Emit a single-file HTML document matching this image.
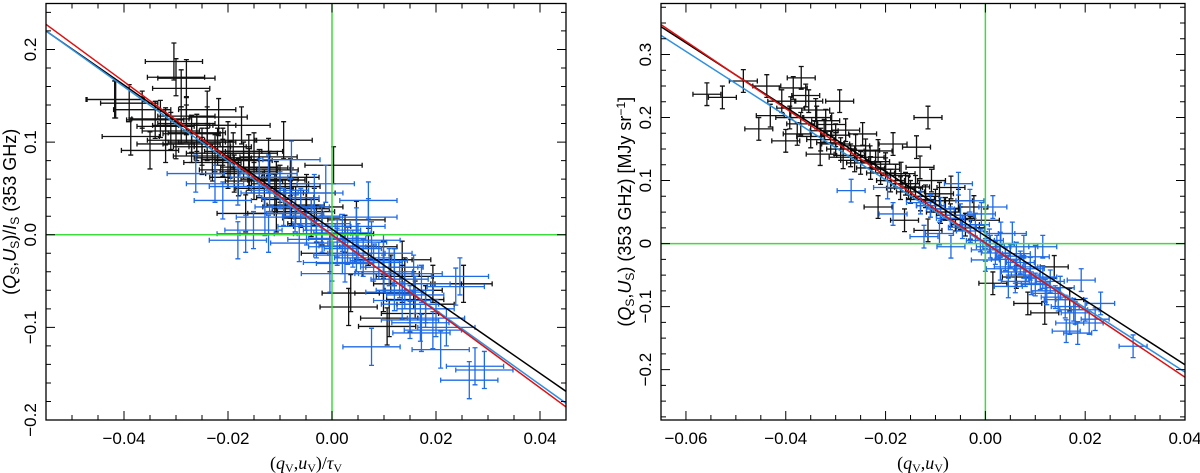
<!DOCTYPE html>
<html><head><meta charset="utf-8"><style>
body{margin:0;background:#fff}
svg{display:block;font-family:"Liberation Sans",sans-serif}
</style></head><body>
<svg id="c" width="1200" height="473" viewBox="0 0 1200 473"></svg>
<script>
// ---- Left panel data ----
const L_blackX=[-0.0304,-0.030,-0.028,-0.029,-0.0416,-0.0418,-0.039,-0.0387,-0.035,-0.0365,-0.034,-0.032,-0.030,-0.027,-0.025,-0.0225,-0.0196,-0.024,-0.0218,-0.0174,-0.0188,-0.0159,-0.0122,-0.0093,-0.0107,-0.0078,-0.0049,-0.0166,-0.0107,-0.0078,-0.0034,0.0003,-0.0019,0.0025,-0.0004,0.0047,0.007,0.0099,0.0113,0.0135,0.0253,0.0194,0.0032,0.0106,0.015,0.0157,0.0099,0.0135,0.0036,-0.028,-0.026,-0.021,-0.015,
-0.033,-0.031,-0.029,-0.027,-0.026,-0.025,-0.024,-0.023,-0.022,-0.021,-0.020,-0.019,-0.018,-0.017,-0.016,-0.015,-0.014,-0.013,-0.012,-0.011,-0.010,-0.009,-0.008,-0.007,-0.006,-0.005,-0.004,-0.003,-0.032,-0.028,-0.024,-0.020,-0.016,-0.012,-0.008,0.012,0.014,0.016,0.018,0.011];
const L_blackY=[0.187,0.170,0.169,0.158,0.146,0.146,0.142,0.106,0.091,0.135,0.124,0.117,0.102,0.109,0.095,0.088,0.081,0.135,0.127,0.118,0.066,0.073,0.084,0.102,0.059,0.052,0.045,0.023,0.023,0.030,0.030,0.075,0.009,0.001,-0.020,0.016,-0.013,-0.027,-0.042,-0.053,-0.053,-0.053,-0.078,-0.099,-0.085,-0.060,-0.063,-0.027,-0.063,0.120,0.100,0.095,0.090,
0.125,0.112,0.118,0.098,0.110,0.085,0.100,0.078,0.095,0.083,0.070,0.090,0.062,0.080,0.068,0.058,0.072,0.050,0.060,0.045,0.055,0.040,0.038,0.032,0.028,0.025,0.018,0.012,0.098,0.128,0.118,0.102,0.088,0.070,0.062,-0.035,-0.045,-0.070,-0.075,-0.090];
const L_blueX=[0.0293,0.0264,0.0275,0.0209,0.0194,0.0172,0.015,0.0076,0.0246,0.0238,0.0172,0.0135,0.0099,0.007,0.007,0.0076,0.0047,0.0025,0.001,-0.0004,-0.0019,-0.0049,-0.0071,-0.0093,-0.0122,-0.0129,-0.0151,-0.0166,-0.0181,-0.0063,-0.021,-0.0225,-0.0262,-0.0181,-0.0122,-0.0078,-0.0034,-0.0012,0.0047,0.0099,0.012,0.0157,
-0.008,-0.006,-0.004,-0.002,0,0.001,0.002,0.003,0.004,0.005,0.006,0.008,0.009,0.010,0.011,0.013,0.014,0.016,0.018,0.020,-0.010,-0.012,-0.014,-0.003,0.000,0.002,0.012,0.022,0.017,0.015];
const L_blueY=[-0.146,-0.157,-0.142,-0.124,-0.103,-0.106,-0.092,-0.121,-0.045,-0.056,-0.053,-0.071,-0.042,0.019,0.037,-0.006,-0.020,-0.031,-0.013,-0.042,0.001,0.009,0.023,0.030,0.001,0.019,0.005,0.001,-0.006,-0.009,0.037,0.055,0.066,0.052,0.066,0.081,0.045,0.055,0.009,-0.020,-0.035,-0.042,
0.040,0.030,0.020,0.012,0.005,-0.004,0.002,-0.012,-0.015,-0.008,-0.025,-0.030,-0.028,-0.040,-0.035,-0.048,-0.060,-0.065,-0.080,-0.090,0.048,0.045,0.062,-0.005,-0.030,-0.022,-0.062,-0.100,-0.095,-0.075];
const L_err={ex:0.0055,ey:0.02};
const L_fits={black:[-3.89,0.006],red:[-4.13,0.0],blue:[-4.02,-0.001]};
// ---- Right panel data ----
const R_blackX=[-0.0558,-0.0527,-0.0485,-0.0438,-0.0454,-0.0431,-0.0408,-0.0385,-0.0369,-0.0392,-0.04,-0.0377,-0.0354,-0.0338,-0.0323,-0.0308,-0.0331,-0.03,-0.0292,-0.0285,-0.0262,-0.0246,-0.0231,-0.0215,-0.02,-0.0185,-0.0215,-0.0115,-0.0169,-0.0154,-0.0131,-0.0138,-0.0108,-0.0092,-0.0069,-0.0054,-0.0162,-0.0115,-0.0023,0,0.0015,0.0085,0.0119,0.0138,0.0169,0.0062,
-0.039,-0.037,-0.036,-0.035,-0.034,-0.033,-0.032,-0.031,-0.030,-0.029,-0.028,-0.027,-0.026,-0.025,-0.024,-0.023,-0.022,-0.021,-0.020,-0.019,-0.018,-0.017,-0.016,-0.015,-0.014,-0.013,-0.012,-0.011,-0.010,-0.009,-0.008,-0.007,-0.006,-0.005,-0.004,-0.003];
const R_blackY=[0.237,0.232,0.258,0.250,0.182,0.203,0.226,0.247,0.263,0.200,0.163,0.174,0.226,0.200,0.179,0.189,0.142,0.158,0.226,0.137,0.132,0.174,0.137,0.147,0.126,0.158,0.058,0.200,0.111,0.089,0.121,0.153,0.100,0.079,0.089,0.068,0.037,0.021,0.058,0.037,-0.063,-0.095,-0.110,-0.037,-0.089,-0.053,
0.215,0.190,0.235,0.170,0.212,0.165,0.195,0.160,0.172,0.150,0.180,0.140,0.155,0.128,0.148,0.120,0.130,0.112,0.118,0.100,0.108,0.088,0.095,0.082,0.090,0.070,0.075,0.060,0.068,0.050,0.055,0.045,0.038,0.040,0.030,0.025];
const R_blueX=[0.0296,0.0162,0.0185,0.0208,0.0231,0.0192,0.0177,0.0169,0.0123,0.01,0.0115,0.0077,0.0046,0.0062,0.0031,0.0015,-0.0008,-0.0031,-0.0054,-0.0046,-0.0069,-0.0092,-0.0123,-0.0185,-0.0196,-0.0269,0,0.0023,0.0054,0.0046,0.0092,0.0146,0.0077,0.0008,0.0115,
-0.009,-0.007,-0.005,-0.003,-0.002,-0.001,0.001,0.002,0.003,0.004,0.005,0.006,0.007,0.008,0.009,0.010,0.011,0.012,0.013,0.014,0.015,0.016,0.018,0.020,0.022,-0.011,-0.013,0.000,0.003,0.006];
const R_blueY=[-0.163,-0.139,-0.142,-0.126,-0.095,-0.058,-0.105,-0.126,-0.079,-0.021,-0.053,-0.037,-0.068,-0.016,0.016,0.058,0.047,0.068,0.095,0.026,-0.005,0.016,0.011,0.047,0.089,0.084,-0.026,-0.005,0.016,-0.037,-0.063,-0.089,-0.005,0.005,-0.005,
0.055,0.040,0.045,0.020,0.030,0.005,-0.005,-0.015,0.000,-0.025,-0.020,-0.045,-0.030,-0.050,-0.040,-0.065,-0.055,-0.075,-0.060,-0.085,-0.070,-0.100,-0.110,-0.105,-0.120,0.060,0.065,-0.010,-0.040,-0.060];
const R_err={ex:0.0028,ey:0.018};
const R_fits={black:[-5.11,0.012],red:[-5.33,0.001],blue:[-5.09,-0.0005]};
const L_xticks=[-0.04,-0.02,0.00,0.02,0.04], L_xlab=["\u22120.04","\u22120.02","0.00","0.02","0.04"];
const L_yticks=[-0.2,-0.1,0.0,0.1,0.2], L_ylab=["\u22120.2","\u22120.1","0.0","0.1","0.2"];
const R_xticks=[-0.06,-0.04,-0.02,0.00,0.02,0.04], R_xlab=["\u22120.06","\u22120.04","\u22120.02","0.00","0.02","0.04"];
const R_yticks=[-0.2,-0.1,0,0.1,0.2,0.3], R_ylab=["\u22120.2","\u22120.1","0","0.1","0.2","0.3"];

const NS="http://www.w3.org/2000/svg";
const svg=document.getElementById('c');
function mk(tag,attrs,parent){const e=document.createElementNS(NS,tag);for(const k in attrs)e.setAttribute(k,attrs[k]);(parent||svg).appendChild(e);return e;}

function panel(cfg){
  const g=mk('g',{});
  
  
  const sx=v=>cfg.x0+(v-cfg.xmin)/(cfg.xmax-cfg.xmin)*(cfg.x1-cfg.x0);
  const sy=v=>cfg.y1-(v-cfg.ymin)/(cfg.ymax-cfg.ymin)*(cfg.y1-cfg.y0);
  const clip='clip'+cfg.name;
  const cp=mk('clipPath',{id:clip},g);
  mk('rect',{x:cfg.x0,y:cfg.y0,width:cfg.x1-cfg.x0,height:cfg.y1-cfg.y0},cp);
  const plot=mk('g',{'clip-path':'url(#'+clip+')'},g);
  function series(xs,ys,col,nm){
    const sg=mk('g',{stroke:col,'stroke-width':1.3,fill:'none'},plot);
    
    
    for(let i=0;i<xs.length;i++){
      const cx=sx(xs[i]),cy=sy(ys[i]);
      const xa=sx(xs[i]-cfg.err.ex),xb=sx(xs[i]+cfg.err.ex);
      const ya=sy(ys[i]+cfg.err.ey),yb=sy(ys[i]-cfg.err.ey);
      const p=mk('path',{d:`M${xa},${cy}H${xb}M${xa},${cy-2.5}v5M${xb},${cy-2.5}v5M${cx},${ya}V${yb}M${cx-2.5},${ya}h5M${cx-2.5},${yb}h5`},sg);
      
      
    }
  }
  series(cfg.bx,cfg.by,'#111','black-points');
  series(cfg.ux,cfg.uy,'#1f6be6','blue-points');
  const gz1=mk('line',{x1:sx(0),x2:sx(0),y1:cfg.y0,y2:cfg.y1,stroke:'#3ddc3d','stroke-width':1.5},plot);
  
  
  const gz2=mk('line',{x1:cfg.x0,x2:cfg.x1,y1:sy(0),y2:sy(0),stroke:'#3ddc3d','stroke-width':1.5},plot);
  
  
  const cols={black:'#000',blue:'#2f8fe0',red:'#e01010'};
  for(const k of ['black','blue','red']){
    const [m,b]=cfg.fits[k];
    const ln=mk('line',{x1:sx(cfg.xmin),y1:sy(m*cfg.xmin+b),x2:sx(cfg.xmax),y2:sy(m*cfg.xmax+b),stroke:cols[k],'stroke-width':1.5},plot);
    
    
  }
  const fr=mk('rect',{x:cfg.x0,y:cfg.y0,width:cfg.x1-cfg.x0,height:cfg.y1-cfg.y0,fill:'none',stroke:'#000','stroke-width':1.3},g);
  
  
  let d='';
  for(let v=Math.ceil(cfg.xmin/cfg.xminor-1e-6)*cfg.xminor;v<=cfg.xmax+1e-9;v+=cfg.xminor){
    const major=Math.abs(v/(cfg.xminor*4)-Math.round(v/(cfg.xminor*4)))<1e-6;
    const L=major?9:5,X=sx(v);
    d+=`M${X},${cfg.y1}v${-L}M${X},${cfg.y0}v${L}`;
  }
  for(let v=Math.ceil(cfg.ymin/cfg.yminor-1e-6)*cfg.yminor;v<=cfg.ymax+1e-9;v+=cfg.yminor){
    const major=Math.abs(v/(cfg.ymajor)-Math.round(v/cfg.ymajor))<1e-6;
    const L=major?9:5,Y=sy(v);
    d+=`M${cfg.x0},${Y}h${L}M${cfg.x1},${Y}h${-L}`;
  }
  const tk=mk('path',{d:d,stroke:'#000','stroke-width':1,fill:'none'},g);
  
  
  cfg.xt.forEach((v,i)=>{
    const t=mk('text',{x:sx(v),y:cfg.y1+24,'text-anchor':'middle','font-size':17},g);
    t.textContent=cfg.xl[i];
    
    
  });
  cfg.yt.forEach((v,i)=>{
    const X=cfg.x0-10,Y=sy(v);
    const t=mk('text',{x:X,y:Y,'text-anchor':'middle','font-size':17,transform:`rotate(-90 ${X} ${Y})`},g);
    t.textContent=cfg.yl[i];
    
    
  });
  const xt=mk('text',{x:(cfg.x0+cfg.x1)/2,y:469,'text-anchor':'middle','font-size':18,'font-family':'Liberation Serif, serif'},g);
  xt.innerHTML=cfg.xtitle;
  
  
  const YX=cfg.x0-30,YY=(cfg.y0+cfg.y1)/2;
  const yt=mk('text',{x:YX,y:YY,'text-anchor':'middle','font-size':18,transform:`rotate(-90 ${YX} ${YY})`},g);
  yt.innerHTML=cfg.ytitle;
  
  
}
panel({name:'left-panel',x0:46,x1:566,y0:3.5,y1:420,xmin:-0.055,xmax:0.045,ymin:-0.2,ymax:0.2496,
  xminor:0.005,yminor:0.02,ymajor:0.1,bx:L_blackX,by:L_blackY,ux:L_blueX,uy:L_blueY,err:L_err,fits:L_fits,
  xt:L_xticks,xl:L_xlab,yt:L_yticks,yl:L_ylab,
  xtitle:'(<tspan font-style="italic">q</tspan><tspan font-size="12" dy="3">V</tspan><tspan dy="-3">,</tspan><tspan font-style="italic">u</tspan><tspan font-size="12" dy="3">V</tspan><tspan dy="-3">)/</tspan><tspan font-style="italic">τ</tspan><tspan font-size="12" dy="3">V</tspan>',
  ytitle:'(<tspan font-style="italic">Q</tspan><tspan font-size="12" dy="3">S</tspan><tspan dy="-3">,</tspan><tspan font-style="italic">U</tspan><tspan font-size="12" dy="3">S</tspan><tspan dy="-3">)/</tspan><tspan font-style="italic">I</tspan><tspan font-size="12" dy="3">S</tspan><tspan dy="-3"> (353 GHz)</tspan>'});
panel({name:'right-panel',x0:661,x1:1185,y0:3.5,y1:420,xmin:-0.065,xmax:0.04,ymin:-0.28,ymax:0.381,
  xminor:0.005,yminor:0.025,ymajor:0.1,bx:R_blackX,by:R_blackY,ux:R_blueX,uy:R_blueY,err:R_err,fits:R_fits,
  xt:R_xticks,xl:R_xlab,yt:R_yticks,yl:R_ylab,
  xtitle:'(<tspan font-style="italic">q</tspan><tspan font-size="12" dy="3">V</tspan><tspan dy="-3">,</tspan><tspan font-style="italic">u</tspan><tspan font-size="12" dy="3">V</tspan><tspan dy="-3">)</tspan>',
  ytitle:'(<tspan font-style="italic">Q</tspan><tspan font-size="12" dy="3">S</tspan><tspan dy="-3">,</tspan><tspan font-style="italic">U</tspan><tspan font-size="12" dy="3">S</tspan><tspan dy="-3">) (353 GHz) [MJy sr</tspan><tspan font-size="12" dy="-6">−1</tspan><tspan dy="6">]</tspan>'});
</script>
</body></html>
